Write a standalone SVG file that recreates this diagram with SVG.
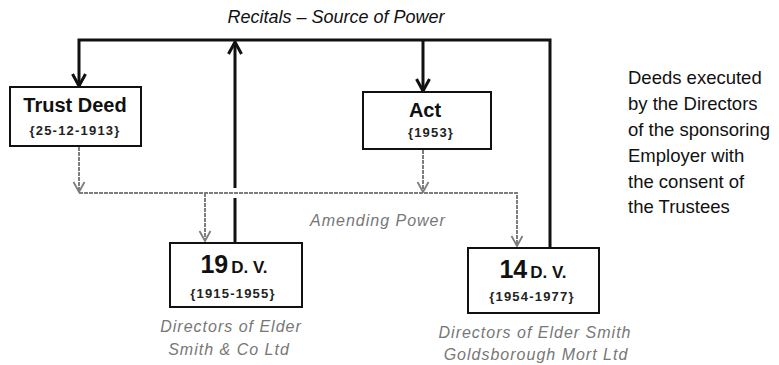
<svg xmlns="http://www.w3.org/2000/svg" width="779" height="365" viewBox="0 0 779 365">
<style>
.box{fill:#fff;stroke:#111;stroke-width:2}
.thick{fill:none;stroke:#111;stroke-width:3}
.grey{fill:none;stroke:#7d7d7d;stroke-width:2;stroke-dasharray:4 1}
.t{font-family:"Liberation Sans",Arial,sans-serif;fill:#111}
.b{font-weight:bold}
.date{font-size:13px;letter-spacing:1.2px;font-weight:bold;fill:#222}
.cap{font-size:16px;font-style:italic;fill:#777;letter-spacing:1px}
.side{font-size:18.5px;fill:#111}
</style>
<defs>
<marker id="ab" viewBox="0 0 14 16" refX="13" refY="8" markerWidth="14" markerHeight="16" markerUnits="userSpaceOnUse" orient="auto">
<path d="M1,1.5 L13,8 L1,14.5" fill="none" stroke="#111" stroke-width="3"/>
</marker>
<marker id="ag" viewBox="0 0 12 14" refX="11" refY="7" markerWidth="12" markerHeight="14" markerUnits="userSpaceOnUse" orient="auto">
<path d="M1,1.5 L11,7 L1,12.5" fill="none" stroke="#7d7d7d" stroke-width="1.8"/>
</marker>
</defs>
<rect width="779" height="365" fill="#fff"/>
<text class="t" x="336" y="23" font-size="18" font-style="italic" text-anchor="middle">Recitals – Source of Power</text>
<g id="connectors">
<path class="thick" d="M550,248 V40 H79 V86" marker-end="url(#ab)"/>
<path class="thick" d="M423,40 V91" marker-end="url(#ab)"/>
<path class="thick" d="M235,243 V198"/>
<path class="thick" d="M235,188 V42" marker-end="url(#ab)"/>
<path class="grey" d="M79,147 V192" marker-end="url(#ag)"/>
<path class="grey" d="M423,150 V192" marker-end="url(#ag)"/>
<path class="grey" d="M79,193 H517 V246" marker-end="url(#ag)"/>
<path class="grey" d="M205,193 V241" marker-end="url(#ag)"/>
</g>
<g id="trust-deed">
<rect class="box" x="10" y="87" width="131" height="59"/>
<text class="t b" x="75" y="112" font-size="20" text-anchor="middle">Trust Deed</text>
<text class="t date" x="75" y="135" text-anchor="middle">{25-12-1913}</text>
</g>
<g id="act">
<rect class="box" x="363" y="92" width="128" height="57"/>
<text class="t b" x="425" y="117" font-size="20" text-anchor="middle">Act</text>
<text class="t date" x="431" y="137" text-anchor="middle">{1953}</text>
</g>
<g id="dv19">
<rect class="box" x="170" y="243" width="132" height="64"/>
<text class="t b" x="234" y="273" text-anchor="middle"><tspan font-size="25">19</tspan><tspan font-size="17" dx="3">D. V.</tspan></text>
<text class="t date" x="233" y="298" text-anchor="middle">{1915-1955}</text>
<text class="t cap" x="231" y="332" text-anchor="middle">Directors of Elder</text>
<text class="t cap" x="229" y="355" text-anchor="middle">Smith &amp; Co Ltd</text>
</g>
<g id="dv14">
<rect class="box" x="468" y="248" width="131" height="65"/>
<text class="t b" x="533" y="278" text-anchor="middle"><tspan font-size="25">14</tspan><tspan font-size="17" dx="3">D. V.</tspan></text>
<text class="t date" x="532" y="301" text-anchor="middle">{1954-1977}</text>
<text class="t cap" x="535" y="338" text-anchor="middle">Directors of Elder Smith</text>
<text class="t cap" x="536" y="360" text-anchor="middle">Goldsborough Mort Ltd</text>
</g>
<g id="amending-label">
<text class="t cap" x="310" y="226" fill="#666">Amending Power</text>
</g>
<g id="side-note">
<text class="t side" x="628" y="84">Deeds executed</text>
<text class="t side" x="628" y="110">by the Directors</text>
<text class="t side" x="628" y="136">of the sponsoring</text>
<text class="t side" x="628" y="162">Employer with</text>
<text class="t side" x="628" y="188">the consent of</text>
<text class="t side" x="628" y="213">the Trustees</text>
</g>
</svg>
